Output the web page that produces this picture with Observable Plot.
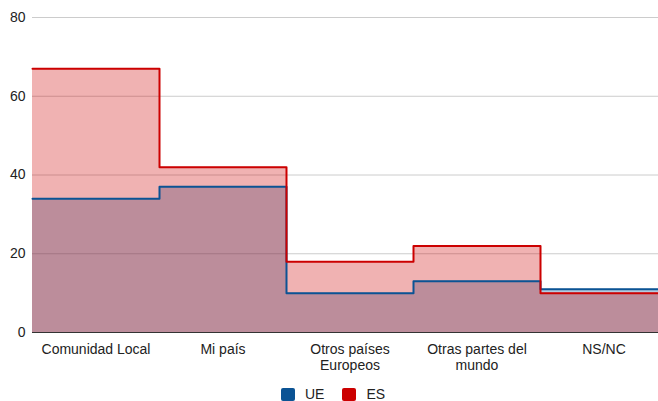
<!DOCTYPE html>
<html><head><meta charset="utf-8">
<script src="https://cdn.jsdelivr.net/npm/d3@7"></script>
<script src="https://cdn.jsdelivr.net/npm/@observablehq/plot@0.6"></script>
<style>
body{margin:0;background:#fff;font-family:Arial,"Liberation Sans",sans-serif;width:658px;height:401px;overflow:hidden;position:relative;}
#chart{width:658px;overflow:hidden;}
#chart svg{max-width:none !important;}
#legend{position:absolute;left:281px;top:387px;display:flex;align-items:center;font-size:14px;line-height:14px;color:#222;}
.item{display:flex;align-items:center;margin-right:18px;}
.sw{width:14px;height:13px;border-radius:2px;margin-right:10px;}
</style></head><body><div id="chart"></div><div id="legend"></div>
<script>
const categories = ["Comunidad Local", "Mi país", "Otros países\nEuropeos", "Otras partes del\nmundo", "NS/NC"];
const ue = [34, 37, 10, 13, 11];
const es = [67, 42, 18, 22, 10];
const yTicks = [0, 20, 40, 60, 80];
const seriesNames = ["UE", "ES"];
const colors = ["#0b5394", "#cc0000"];

const seriesValues = [ue, es];
const rows = [];
seriesNames.forEach((s, k) => {
  const vals = seriesValues[k];
  for (let i = 0; i <= vals.length; i++) rows.push({series: s, x: i, y: vals[Math.min(i, vals.length - 1)]});
});

const plot = Plot.plot({
  width: 667, height: 375,
  marginLeft: 32, marginRight: 0, marginTop: 17, marginBottom: 43,
  style: {fontFamily: "Arial, 'Liberation Sans', sans-serif", fontSize: "14px", color: "#222", background: "#fff", maxWidth: "none"},
  x: {domain: [0, categories.length], axis: null, label: null},
  y: {domain: [0, 80], axis: null, label: null},
  color: {domain: seriesNames, range: colors},
  marks: [
    Plot.gridY(yTicks, {stroke: "#cccccc", strokeOpacity: 1}),
    Plot.axisY(yTicks, {tickSize: 0, tickPadding: 7, fontSize: 14, fill: "#222", label: null}),
    Plot.areaY(rows, {x: "x", y1: 0, y2: "y", z: "series", fill: "series", fillOpacity: 0.3, curve: "step-after"}),
    Plot.ruleY([0], {stroke: "#333", strokeWidth: 1}),
    Plot.lineY(rows, {x: "x", y: "y", z: "series", stroke: "series", strokeWidth: 2, curve: "step-after", strokeLinejoin: "round"}),
    Plot.axisX(categories.map((d, i) => i + 0.5), {tickSize: 0, tickPadding: 10, fontSize: 14, fill: "#222", lineHeight: 1.15, label: null, tickFormat: d => categories[Math.floor(d)]})
  ]
});
plot.style.display = "block";
plot.style.maxWidth = "none";
document.getElementById("chart").appendChild(plot);

const legend = document.getElementById("legend");
seriesNames.forEach((s, k) => {
  const it = document.createElement("div");
  it.className = "item";
  const sw = document.createElement("div");
  sw.className = "sw";
  sw.style.background = colors[k];
  const t = document.createElement("span");
  t.textContent = s;
  it.appendChild(sw); it.appendChild(t);
  legend.appendChild(it);
});
</script></body></html>
